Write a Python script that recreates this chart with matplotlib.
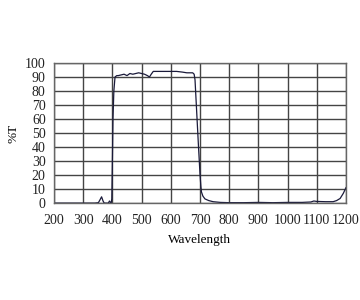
import matplotlib
matplotlib.use("Agg")
import matplotlib.pyplot as plt

# Transmission curve
wavelength = [200, 340, 352, 358, 363, 368, 372, 386, 390, 393, 396, 398, 400, 402, 405, 409,
              415, 420, 430, 440, 450, 460, 470, 480, 490, 500, 510, 520, 527, 533, 540,
              560, 580, 600, 620, 640, 655, 665, 675, 680, 683, 690, 695, 700, 703,
              705, 710, 717, 730, 745, 770, 800, 850, 900, 950, 1000, 1050, 1080,
              1090, 1100, 1130, 1156, 1168, 1180, 1191, 1200]
transmission = [0, 0, 0.3, 2.5, 4.5, 1.5, 0, 0, 1.5, 0.5, 0.3, 3, 30, 60, 80, 90,
                91, 91, 91.5, 92, 91, 92.5, 92, 92.5, 93, 92.5, 92, 91, 90, 92, 94,
                94, 94, 94, 94, 93.5, 93, 93, 93, 92, 88, 60, 40, 21, 12,
                8, 5, 3, 1.8, 1, 0.5, 0.3, 0.3, 0.5, 0.3, 0.5, 0.5, 0.8,
                1.5, 1.2, 1, 1, 1.8, 3.3, 7, 11]

xticks = list(range(200, 1201, 100))
yticks = list(range(0, 101, 10))

plt.rcParams['font.family'] = ['Liberation Serif', 'DejaVu Serif']

fig = plt.figure(figsize=(3.6, 3.0), dpi=100)
ax = fig.add_axes([0.15, 0.323, 0.811, 0.467])

ax.plot(wavelength, transmission, color='#1a1a3a', linewidth=0.9)

ax.set_xlim(200, 1200)
ax.set_ylim(0, 100)
ax.set_xticks(xticks)
ax.set_yticks(yticks)
ax.tick_params(axis='both', length=0, labelsize=10, colors='#222222')
ax.tick_params(axis='x', pad=8)
ax.tick_params(axis='y', pad=6)
ax.grid(True, color='#444444', linewidth=1.0)
for s in ax.spines.values():
    s.set_color('#666666')
    s.set_linewidth(1.0)

ax.set_xlabel("Wavelength", fontsize=9.5, labelpad=5)
ax.set_ylabel("%T", fontsize=9.5, labelpad=4)

fig.savefig("out.png", dpi=100)
